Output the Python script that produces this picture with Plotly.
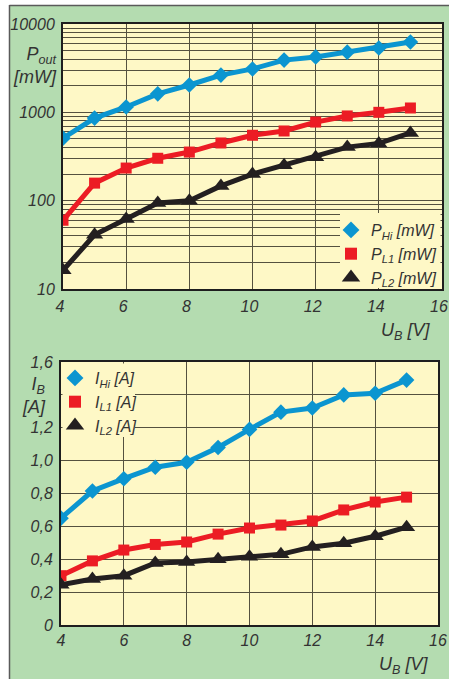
import plotly.graph_objects as go

# ---------------- data ----------------
U_B = [4, 5, 6, 7, 8, 9, 10, 11, 12, 13, 14, 15]

P_Hi = [510, 860, 1150, 1620, 2040, 2640, 3100, 3900, 4240, 4800, 5350, 6250]
P_L1 = [60, 158, 234, 302, 355, 450, 550, 615, 776, 910, 1000, 1120]
P_L2 = [16.3, 41, 62, 94, 100, 147, 200, 252, 310, 404, 445, 585]

I_Hi = [0.65, 0.815, 0.89, 0.96, 0.99, 1.08, 1.19, 1.295, 1.32, 1.40, 1.41, 1.49]
I_L1 = [0.30, 0.39, 0.456, 0.49, 0.505, 0.553, 0.59, 0.608, 0.633, 0.70, 0.748, 0.778]
I_L2 = [0.245, 0.28, 0.30, 0.377, 0.383, 0.40, 0.415, 0.43, 0.475, 0.497, 0.54, 0.595]

x_ticks = [4, 6, 8, 10, 12, 14, 16]
p_tickvals = [10, 100, 1000, 10000]
p_ticktext = ["10", "100", "1000", "10000"]
p_minorvals = [m * 10 ** e for e in (1, 2, 3) for m in range(2, 10)]
i_tickvals = [0, 0.2, 0.4, 0.6, 0.8, 1.0, 1.2, 1.6]
i_ticktext = ["0", "0,2", "0,4", "0,6", "0,8", "1,0", "1,2", "1,6"]
i_minorvals = [1.4]

# ---------------- styling ----------------
BLUE = "#0b95d0"
RED = "#ec1c24"
BLACK = "#231f20"
GREEN = "#b4dcb0"
YELLOW = "#fef8c6"
GRID = "#55513f"
TXT = "#333333"
FONT = "Liberation Sans, Arial, sans-serif"

W, H = 449, 679
L, R, T, B = 61, 7, 24, 54
pw, ph = W - L - R, H - T - B


def px_x(p):
    return (p - L) / pw


def px_y(p):
    return (H - B - p) / ph


fig = go.Figure()

series_top = [
    (P_Hi, BLUE, "diamond", 12, "P<sub>Hi</sub> [mW]"),
    (P_L1, RED, "square", 11, "P<sub>L1</sub> [mW]"),
    (P_L2, BLACK, "triangle-up", 15, "P<sub>L2</sub> [mW]"),
]
series_bot = [
    (I_Hi, BLUE, "diamond", 12, "I<sub>Hi</sub> [A]"),
    (I_L1, RED, "square", 11, "I<sub>L1</sub> [A]"),
    (I_L2, BLACK, "triangle-up", 15, "I<sub>L2</sub> [A]"),
]

for ys, col, sym, sz, name in series_top:
    fig.add_trace(go.Scatter(x=U_B, y=ys, mode="lines+markers", xaxis="x", yaxis="y",
                             line=dict(color=col, width=5),
                             marker=dict(symbol=sym, size=sz, color=col),
                             showlegend=False))
for ys, col, sym, sz, name in series_top:
    fig.add_trace(go.Scatter(x=[None], y=[None], mode="markers", xaxis="x", yaxis="y",
                             marker=dict(symbol=sym, size=sz + 1, color=col),
                             name=name, legend="legend"))

for ys, col, sym, sz, name in series_bot:
    fig.add_trace(go.Scatter(x=U_B, y=ys, mode="lines+markers", xaxis="x2", yaxis="y2",
                             line=dict(color=col, width=5),
                             marker=dict(symbol=sym, size=sz, color=col),
                             showlegend=False))
for ys, col, sym, sz, name in series_bot:
    fig.add_trace(go.Scatter(x=[None], y=[None], mode="markers", xaxis="x2", yaxis="y2",
                             marker=dict(symbol=sym, size=sz + 1, color=col),
                             name=name, legend="legend2"))

tickfont = dict(family=FONT, size=16, color=TXT, style="italic")
axis_common = dict(showline=True, linecolor="#1e1e1e", linewidth=2, mirror=True,
                   ticks="", gridcolor=GRID, gridwidth=1, zeroline=False,
                   tickfont=tickfont)

top_lo = px_y(289)
bot_hi = px_y(362)
leg_font = dict(family=FONT, size=16, color=TXT, style="italic")

fig.update_layout(
    width=W, height=H,
    margin=dict(l=L, r=R, t=T, b=B, autoexpand=False),
    paper_bgcolor=GREEN,
    plot_bgcolor=YELLOW,
    font=dict(family=FONT, color=TXT),
    xaxis=dict(domain=[px_x(63), px_x(442)], range=[4, 16], tickvals=x_ticks,
               anchor="y", ticklabelstandoff=2, ticklabeloverflow="allow",
               ticklabelshift=-3, **axis_common),
    yaxis=dict(domain=[top_lo, 1], type="log", range=[1, 4], tickvals=p_tickvals,
               ticktext=p_ticktext, anchor="x", ticklabelstandoff=3,
               ticklabeloverflow="allow",
               minor=dict(tickvals=p_minorvals, showgrid=True, gridcolor=GRID,
                          gridwidth=1, ticks=""),
               **axis_common),
    xaxis2=dict(domain=[0, px_x(438)], range=[4, 16], tickvals=x_ticks,
                anchor="y2", ticklabelstandoff=0, ticklabeloverflow="allow",
                **axis_common),
    yaxis2=dict(domain=[0, bot_hi], range=[0, 1.6], tickvals=i_tickvals,
                ticktext=i_ticktext, anchor="x2", ticklabelstandoff=3,
                ticklabeloverflow="allow",
                minor=dict(tickvals=i_minorvals, showgrid=True, gridcolor=GRID,
                           gridwidth=1, ticks=""),
                **axis_common),
    legend=dict(x=px_x(331), xanchor="left", y=px_y(213), yanchor="top",
                bgcolor="rgba(0,0,0,0)", borderwidth=0, tracegroupgap=0,
                font=leg_font),
    legend2=dict(x=px_x(55), xanchor="left", y=px_y(361), yanchor="top",
                 bgcolor="rgba(0,0,0,0)", borderwidth=0, tracegroupgap=0,
                 font=leg_font),
    showlegend=True,
)

# yellow boxes behind the legends (hide the grid there)
fig.add_shape(type="rect", xref="paper", yref="paper", x0=px_x(340), x1=px_x(440.5),
              y0=px_y(288), y1=px_y(213), fillcolor=YELLOW, line_width=0, layer="above")
fig.add_shape(type="rect", xref="paper", yref="paper", x0=px_x(62.5), x1=px_x(135),
              y0=px_y(437), y1=px_y(363.5), fillcolor=YELLOW, line_width=0, layer="above")

ann_font = dict(family=FONT, size=18, color=TXT, style="italic")
fig.add_annotation(text="P<sub>out</sub><br>[mW]", xref="paper", yref="paper",
                   x=px_x(59), y=px_y(42), xanchor="right", yanchor="top",
                   showarrow=False, align="right", font=ann_font)
fig.add_annotation(text="U<sub>B</sub> [V]", xref="paper", yref="paper",
                   x=px_x(432), y=px_y(318), xanchor="right", yanchor="top",
                   showarrow=False, font=ann_font)
fig.add_annotation(text="I<sub>B</sub><br>[A]", xref="paper", yref="paper",
                   x=px_x(48), y=px_y(372), xanchor="right", yanchor="top",
                   showarrow=False, align="right", font=ann_font)
fig.add_annotation(text="U<sub>B</sub> [V]", xref="paper", yref="paper",
                   x=px_x(430), y=px_y(652), xanchor="right", yanchor="top",
                   showarrow=False, font=ann_font)

# white margins outside the green panel and its border
fig.add_shape(type="rect", xref="paper", yref="paper", x0=px_x(-5), x1=px_x(9),
              y0=px_y(H + 5), y1=px_y(-5), fillcolor="white", line_width=0, layer="below")
fig.add_shape(type="rect", xref="paper", yref="paper", x0=px_x(-5), x1=px_x(W + 5),
              y0=px_y(5), y1=px_y(-5), fillcolor="white", line_width=0, layer="below")
fig.add_shape(type="line", xref="paper", yref="paper", x0=px_x(9.5), x1=px_x(9.5),
              y0=px_y(H + 5), y1=px_y(5), line=dict(color="#5a5a5a", width=1.5))
fig.add_shape(type="line", xref="paper", yref="paper", x0=px_x(9.5), x1=px_x(W + 5),
              y0=px_y(5.5), y1=px_y(5.5), line=dict(color="#5a5a5a", width=1.5))

fig.write_html("out.html", config={"displayModeBar": False},
               post_script="document.body.style.margin='0';document.body.style.overflow='hidden';")
